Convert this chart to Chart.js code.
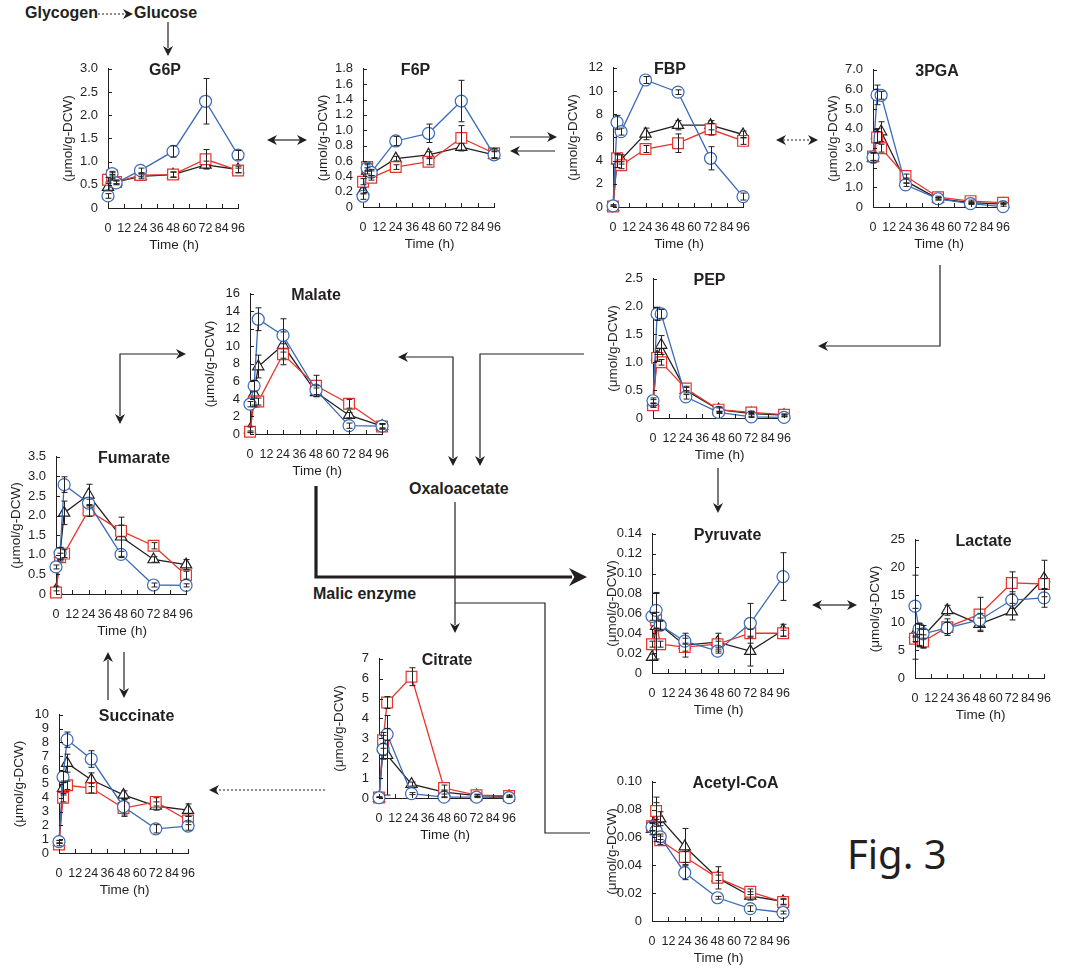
<!DOCTYPE html>
<html><head><meta charset="utf-8">
<script src="https://cdn.jsdelivr.net/npm/chart.js@4.4.1/dist/chart.umd.min.js"></script>
<style>
body{margin:0;background:#fff;width:1067px;height:970px;position:relative;overflow:hidden;font-family:"Liberation Sans",Arial,sans-serif;color:#231f20;}
canvas{position:absolute;}
.lbl{position:absolute;font-weight:bold;font-size:16px;white-space:nowrap;line-height:1;}
#fig{position:absolute;left:847px;top:834px;font-family:"Noto Sans",sans-serif;font-size:40px;line-height:1;color:#231f20;}
svg{position:absolute;left:0;top:0;}
</style></head><body>
<svg id="arrows" width="1067" height="970"></svg>
<div class="lbl" style="left:25px;top:5px">Glycogen</div>
<div class="lbl" style="left:134px;top:5px">Glucose</div>
<div class="lbl" style="left:409px;top:481px">Oxaloacetate</div>
<div class="lbl" style="left:313px;top:586px">Malic enzyme</div>
<div id="fig">Fig. 3</div>
<script>
// ---------- data ----------
const times = [0, 3, 6, 24, 48, 72, 96];
const xTickLabels = ['0','12','24','36','48','60','72','84','96'];

// G6P
const g6pYTicks = ['0','0.5','1.0','1.5','2.0','2.5','3.0'];
const g6pBlue = [0.26,0.74,0.54,0.81,1.22,2.30,1.14];
const g6pBlueErr = [0.05,0.05,0.04,0.05,0.12,0.49,0.10];
const g6pRed = [0.61,0.70,0.56,0.71,0.72,1.05,0.81];
const g6pRedErr = [0.05,0.06,0.04,0.04,0.05,0.21,0.05];
const g6pBlack = [0.45,0.66,0.56,0.68,0.72,0.93,0.83];
const g6pBlackErr = [0.08,0.06,0.04,0.05,0.06,0.08,0.07];

// F6P
const f6pYTicks = ['0','0.2','0.4','0.6','0.8','1.0','1.2','1.4','1.6','1.8'];
const f6pBlue = [0.14,0.51,0.45,0.86,0.96,1.38,0.68];
const f6pBlueErr = [0.04,0.04,0.04,0.06,0.12,0.27,0.04];
const f6pRed = [0.33,0.52,0.38,0.52,0.59,0.90,0.70];
const f6pRedErr = [0.04,0.05,0.03,0.03,0.04,0.16,0.06];
const f6pBlack = [0.21,0.47,0.43,0.63,0.68,0.78,0.68];
const f6pBlackErr = [0.04,0.04,0.04,0.03,0.04,0.05,0.05];

// FBP
const fbpYTicks = ['0','2','4','6','8','10','12'];
const fbpBlue = [0.1,7.3,6.5,10.95,9.9,4.2,0.9];
const fbpBlueErr = [0.1,0.6,0.3,0.3,0.2,1.0,0.3];
const fbpRed = [0.05,4.2,3.6,5.0,5.5,6.7,5.7];
const fbpRedErr = [0.05,0.3,0.3,0.3,0.8,0.5,0.3];
const fbpBlack = [0,4.0,4.1,6.3,7.05,7.05,6.25];
const fbpBlackErr = [0.05,0.6,0.4,0.5,0.4,0.4,0.3];

// 3PGA
const pgaYTicks = ['0','1.0','2.0','3.0','4.0','5.0','6.0','7.0'];
const pgaBlue = [2.55,5.72,5.7,1.13,0.42,0.17,0.02];
const pgaBlueErr = [0.2,0.5,0.2,0.08,0.06,0.04,0.02];
const pgaRed = [2.58,3.55,3.0,1.58,0.5,0.3,0.22];
const pgaRedErr = [0.2,0.3,0.2,0.1,0.05,0.05,0.03];
const pgaBlack = [2.5,3.65,3.85,1.33,0.42,0.22,0.15];
const pgaBlackErr = [0.25,0.35,0.5,0.1,0.06,0.04,0.03];

// Malate
const malYTicks = ['0','2','4','6','8','10','12','14','16'];
const malBlue = [3.4,5.5,13.1,11.25,5.0,0.95,0.9];
const malBlueErr = [0.3,0.6,1.3,1.9,0.5,0.3,0.2];
const malRed = [0.25,3.7,3.7,9.1,5.5,3.45,0.85];
const malRedErr = [0.1,0.4,0.4,1.2,1.2,0.5,0.3];
const malBlack = [0.5,4.6,7.7,10.15,4.75,2.15,0.9];
const malBlackErr = [0.3,1.5,1.3,1.5,0.5,0.3,0.3];

// PEP
const pepYTicks = ['0','0.5','1.0','1.5','2.0','2.5'];
const pepBlue = [0.31,1.87,1.87,0.38,0.10,0.02,0.01];
const pepBlueErr = [0.05,0.12,0.08,0.04,0.02,0.01,0.01];
const pepRed = [0.23,1.08,1.0,0.53,0.15,0.10,0.06];
const pepRedErr = [0.04,0.06,0.05,0.04,0.03,0.02,0.01];
const pepBlack = [0.28,1.10,1.31,0.50,0.15,0.08,0.05];
const pepBlackErr = [0.05,0.08,0.17,0.05,0.05,0.02,0.02];

// Fumarate
const fumYTicks = ['0','0.5','1.0','1.5','2.0','2.5','3.0','3.5'];
const fumBlue = [0.69,1.04,2.79,2.32,1.01,0.23,0.22];
const fumBlueErr = [0.05,0.15,0.2,0.1,0.08,0.05,0.04];
const fumRed = [0.04,0.94,1.03,2.13,1.61,1.23,0.48];
const fumRedErr = [0.04,0.1,0.1,0.15,0.15,0.08,0.1];
const fumBlack = [0.1,1.02,2.07,2.53,1.46,0.88,0.75];
const fumBlackErr = [0.1,0.15,0.3,0.27,0.5,0.07,0.13];

// Pyruvate
const pyrYTicks = ['0','0.02','0.04','0.06','0.08','0.10','0.12','0.14'];
const pyrBlue = [0.057,0.063,0.048,0.032,0.022,0.050,0.097];
const pyrBlueErr = [0.004,0.018,0.004,0.003,0.002,0.020,0.024];
const pyrRed = [0.029,0.053,0.029,0.026,0.029,0.040,0.040];
const pyrRedErr = [0.003,0.008,0.003,0.004,0.003,0.004,0.003];
const pyrBlack = [0.016,0.047,0.048,0.028,0.031,0.022,0.043];
const pyrBlackErr = [0.003,0.033,0.005,0.012,0.009,0.015,0.006];

// Lactate
const lacYTicks = ['0','5','10','15','20','25'];
const lacBlue = [13.0,8.9,8.0,9.05,10.5,14.1,14.5];
const lacBlueErr = [5.6,1.0,0.8,1.0,1.2,1.5,1.7];
const lacRed = [7.1,7.4,6.6,9.2,11.5,17.2,17.0];
const lacRedErr = [0.5,1.5,1.2,1.5,3.1,2.0,1.0];
const lacBlack = [8.0,7.7,7.5,12.25,9.75,12.0,18.0];
const lacBlackErr = [4.6,2.0,2.0,0.9,1.1,1.5,3.3];

// Citrate
const citYTicks = ['0','1','2','3','4','5','6','7'];
const citBlue = [0.02,2.45,3.2,0.22,0.04,0.04,0.02];
const citBlueErr = [0.02,0.3,0.3,0.05,0.02,0.02,0.02];
const citRed = [0.03,2.9,4.8,6.1,0.5,0.14,0.1];
const citRedErr = [0.03,0.4,0.3,0.45,0.15,0.05,0.05];
const citBlack = [0,2.55,2.15,0.7,0.3,0.12,0.08];
const citBlackErr = [0.02,0.6,2.0,0.1,0.1,0.04,0.03];

// Succinate
const sucYTicks = ['0','1','2','3','4','5','6','7','8','9','10'];
const sucBlue = [0.82,5.5,8.2,6.8,3.35,1.75,1.95];
const sucBlueErr = [0.1,0.4,0.55,0.6,0.6,0.3,0.3];
const sucRed = [0.62,4.0,4.9,4.7,3.25,3.7,2.35];
const sucRedErr = [0.1,0.3,0.3,0.35,0.6,0.3,0.3];
const sucBlack = [0.8,4.7,6.5,5.3,4.2,3.4,3.1];
const sucBlackErr = [0.1,0.5,0.65,0.5,0.3,0.3,0.45];

// Acetyl-CoA
const acoYTicks = ['0','0.02','0.04','0.06','0.08','0.10'];
const acoBlue = [0.0676,0.065,0.0605,0.0347,0.0167,0.0089,0.0061];
const acoBlueErr = [0.003,0.003,0.002,0.005,0.001,0.002,0.001];
const acoRed = [0.068,0.079,0.058,0.046,0.031,0.021,0.0136];
const acoRedErr = [0.003,0.006,0.003,0.004,0.002,0.002,0.002];
const acoBlack = [0.066,0.073,0.0735,0.0535,0.031,0.018,0.014];
const acoBlackErr = [0.004,0.016,0.005,0.013,0.008,0.003,0.002];

// ---------- layout (plot boxes: axis x, top y, width, height) ----------
const panels = [
  {title:'G6P', dx:-8, box:[108,66,135,142], yMax:3.0, yStep:0.5, yTicks:g6pYTicks, b:g6pBlue, be:g6pBlueErr, r:g6pRed, re:g6pRedErr, k:g6pBlack, ke:g6pBlackErr},
  {title:'F6P', dx:-13, box:[363,66,136,141], yMax:1.8, yStep:0.2, yTicks:f6pYTicks, b:f6pBlue, be:f6pBlueErr, r:f6pRed, re:f6pRedErr, k:f6pBlack, ke:f6pBlackErr},
  {title:'FBP', dx:-8, box:[613,65,135,142], yMax:12, yStep:2, yTicks:fbpYTicks, b:fbpBlue, be:fbpBlueErr, r:fbpRed, re:fbpRedErr, k:fbpBlack, ke:fbpBlackErr},
  {title:'3PGA', dx:-1, box:[873,67,135,140], yMax:7, yStep:1, yTicks:pgaYTicks, b:pgaBlue, be:pgaBlueErr, r:pgaRed, re:pgaRedErr, k:pgaBlack, ke:pgaBlackErr},
  {title:'Malate', dx:0, box:[250,291,137,143], yMax:16, yStep:2, yTicks:malYTicks, b:malBlue, be:malBlueErr, r:malRed, re:malRedErr, k:malBlack, ke:malBlackErr},
  {title:'PEP', dx:-9, box:[653,276,136,142], yMax:2.5, yStep:0.5, yTicks:pepYTicks, b:pepBlue, be:pepBlueErr, r:pepRed, re:pepRedErr, k:pepBlack, ke:pepBlackErr},
  {title:'Fumarate', dx:13, box:[56,454,135,140], yMax:3.5, yStep:0.5, yTicks:fumYTicks, b:fumBlue, be:fumBlueErr, r:fumRed, re:fumRedErr, k:fumBlack, ke:fumBlackErr},
  {title:'Pyruvate', dx:10, box:[652,531,136,142], yMax:0.14, yStep:0.02, yTicks:pyrYTicks, b:pyrBlue, be:pyrBlueErr, r:pyrRed, re:pyrRedErr, k:pyrBlack, ke:pyrBlackErr},
  {title:'Lactate', dx:4, box:[915,537,134,141], yMax:25, yStep:5, yTicks:lacYTicks, b:lacBlue, be:lacBlueErr, r:lacRed, re:lacRedErr, k:lacBlack, ke:lacBlackErr},
  {title:'Citrate', dx:3, box:[379,656,135,142], yMax:7, yStep:1, yTicks:citYTicks, b:citBlue, be:citBlueErr, r:citRed, re:citRedErr, k:citBlack, ke:citBlackErr},
  {title:'Succinate', dx:13, box:[59,712,134,141], yMax:10, yStep:1, yTicks:sucYTicks, b:sucBlue, be:sucBlueErr, r:sucRed, re:sucRedErr, k:sucBlack, ke:sucBlackErr},
  {title:'Acetyl-CoA', dx:18, box:[652,779,136,142], yMax:0.10, yStep:0.02, yTicks:acoYTicks, b:acoBlue, be:acoBlueErr, r:acoRed, re:acoRedErr, k:acoBlack, ke:acoBlackErr}
];

const INK = '#231f20';
const BLUE = '#3a6bb8';
const RED = '#e8342c';
const PADL = 75, PADT = 15, PADR = 15, PADB = 52;

const decoPlugin = {
  id: 'deco',
  afterDatasetsDraw(chart) {
    const ctx = chart.ctx, ys = chart.scales.y;
    ctx.save();
    ctx.strokeStyle = INK; ctx.lineWidth = 1;
    chart.data.datasets.forEach((ds, di) => {
      const meta = chart.getDatasetMeta(di);
      meta.data.forEach((pt, i) => {
        const v = ds.data[i].y, e = ds.errors[i];
        if (!e) return;
        const x = Math.round(pt.x) + 0.5;
        const y1 = ys.getPixelForValue(v + e), y2 = ys.getPixelForValue(Math.max(v - e, 0));
        ctx.beginPath();
        ctx.moveTo(x, y1); ctx.lineTo(x, y2);
        ctx.moveTo(x - 3, y1); ctx.lineTo(x + 3, y1);
        if (v - e > 0) { ctx.moveTo(x - 3, y2); ctx.lineTo(x + 3, y2); }
        ctx.stroke();
      });
    });
    ctx.restore();
  },
  afterDraw(chart) {
    const ctx = chart.ctx, a = chart.chartArea, xs = chart.scales.x, ys = chart.scales.y;
    const p = chart.options.plugins.deco;
    ctx.save();
    ctx.strokeStyle = INK; ctx.lineWidth = 1;
    ctx.beginPath();
    xs.ticks.forEach(t => {
      const x = Math.round(xs.getPixelForValue(t.value)) + 0.5;
      ctx.moveTo(x, a.bottom); ctx.lineTo(x, a.bottom - 4);
    });
    ys.ticks.forEach(t => {
      const y = Math.round(ys.getPixelForValue(t.value)) + 0.5;
      ctx.moveTo(a.left, y); ctx.lineTo(a.left + 4, y);
    });
    ctx.stroke();
    ctx.fillStyle = INK;
    ctx.textAlign = 'center'; ctx.textBaseline = 'middle';
    ctx.font = 'bold 16px "Liberation Sans", Arial, sans-serif';
    ctx.fillText(p.title, (a.left + a.right) / 2 + p.dx, a.top + 2);
    ctx.font = '13.5px "Liberation Sans", Arial, sans-serif';
    ctx.fillText('Time (h)', (a.left + a.right) / 2 + 1, a.bottom + 37);
    ctx.translate(a.left - 40, (a.top + a.bottom) / 2);
    ctx.rotate(-Math.PI / 2);
    ctx.fillText('(\u03bcmol/g-DCW)', 0, 0);
    ctx.restore();
  }
};

function series(vals, errs, color, style, radius) {
  return {
    data: times.map((t, i) => ({x: t, y: vals[i]})),
    errors: errs,
    borderColor: color, backgroundColor: '#ffffff',
    pointBorderColor: color, pointBackgroundColor: '#ffffff',
    pointStyle: style, pointRadius: radius, pointBorderWidth: 1.2,
    borderWidth: 1.3, clip: false, tension: 0
  };
}

panels.forEach(p => {
  const [ax, ty, w, h] = p.box;
  const cv = document.createElement('canvas');
  const W = PADL + w + PADR, H = PADT + h + PADB;
  cv.width = W; cv.height = H;
  cv.style.left = (ax - PADL) + 'px'; cv.style.top = (ty - PADT) + 'px';
  cv.style.width = W + 'px'; cv.style.height = H + 'px';
  document.body.appendChild(cv);
  new Chart(cv, {
    type: 'line',
    data: { datasets: [
      series(p.b, p.be, BLUE, 'circle', 6),
      series(p.r, p.re, RED, 'rect', 7.6),
      series(p.k, p.ke, INK, 'triangle', 6.5)
    ]},
    options: {
      responsive: false, animation: false, devicePixelRatio: 1,
      layout: { padding: { left: 0, top: PADT, right: PADR, bottom: 0 } },
      plugins: { legend: { display: false }, tooltip: { enabled: false }, deco: { title: p.title, dx: p.dx } },
      scales: {
        x: {
          type: 'linear', min: 0, max: 96,
          grid: { display: false, drawTicks: false },
          border: { display: true, color: INK, width: 1 },
          ticks: { stepSize: 12, padding: 13, color: INK, maxRotation: 0, autoSkip: false,
                   font: { size: 12.5, family: '"Liberation Sans", Arial, sans-serif' },
                   callback: (v, i) => xTickLabels[i] },
          afterFit: s => { s.height = PADB; }
        },
        y: {
          type: 'linear', min: 0, max: p.yMax,
          grid: { display: false, drawTicks: false },
          border: { display: true, color: INK, width: 1 },
          ticks: { stepSize: p.yStep, padding: 10, color: INK, autoSkip: false,
                   font: { size: 13, family: '"Liberation Sans", Arial, sans-serif' },
                   callback: (v, i) => p.yTicks[i] },
          afterFit: s => { s.width = PADL; }
        }
      }
    },
    plugins: [decoPlugin]
  });
});

// ---------- pathway arrows ----------
const svg = document.getElementById('arrows');
const NS = 'http://www.w3.org/2000/svg';
function el(tag, attrs) { const e = document.createElementNS(NS, tag); for (const k in attrs) e.setAttribute(k, attrs[k]); svg.appendChild(e); return e; }
function line(pts, opts = {}) {
  el('polyline', { points: pts.map(p => p.join(',')).join(' '), fill: 'none', stroke: INK,
    'stroke-width': opts.w || 1.2, 'stroke-dasharray': opts.dash || 'none' });
}
function head(x, y, dir, size = 1) {
  const L = 10 * size, Wd = 5 * size, n = 3 * size;
  let pts;
  if (dir === 'r') pts = [[x, y], [x - L, y - Wd], [x - L + n, y], [x - L, y + Wd]];
  if (dir === 'l') pts = [[x, y], [x + L, y - Wd], [x + L - n, y], [x + L, y + Wd]];
  if (dir === 'd') pts = [[x, y], [x - Wd, y - L], [x, y - L + n], [x + Wd, y - L]];
  if (dir === 'u') pts = [[x, y], [x - Wd, y + L], [x, y + L - n], [x + Wd, y + L]];
  el('polygon', { points: pts.map(p => p.join(',')).join(' '), fill: INK });
}
// Glycogen -> Glucose
line([[98,14],[124,14]], {dash:'2,2'}); head(133,14,'r');
// Glucose -> G6P
line([[168,22],[168,48]]); head(168,56,'d');
// G6P <-> F6P
line([[274,140],[300,140]]); head(267,140,'l'); head(307,140,'r');
// F6P <=> FBP
line([[510,137],[550,137]]); head(557,137,'r');
line([[517,151],[555,151]]); head(510,151,'l');
// FBP <-> 3PGA dotted
line([[783,140],[811,140]], {dash:'2,2'}); head(776,140,'l'); head(818,140,'r');
// 3PGA -> PEP
line([[940,265],[940,346],[825,346]]); head(818,346,'l');
// PEP -> Oxaloacetate
line([[584,354],[480,354],[480,458]]); head(480,466,'d');
// Malate <-> Oxaloacetate
line([[405,357],[453,357],[453,458]]); head(398,357,'l'); head(453,466,'d');
// Fumarate <-> Malate
line([[120,416],[120,354],[178,354]]); head(120,424,'d'); head(186,354,'r');
// Malic enzyme (thick)
el('polyline', { points: '316,486 316,577 572,577', fill: 'none', stroke: INK, 'stroke-width': 3.2 });
head(587,577,'r',1.8);
// Oxaloacetate -> Citrate, and branch to Acetyl-CoA
line([[455,502],[455,625]]); head(455,633,'d');
line([[455,603],[545,603],[545,833],[590,833]]);
// PEP -> Pyruvate
line([[718,468],[718,505]]); head(718,513,'d');
// Pyruvate <-> Lactate
line([[819,605],[850,605]]); head(812,605,'l'); head(857,605,'r');
// Fumarate <-> Succinate
line([[108,660],[108,700]]); head(108,652,'u');
line([[124,652],[124,690]]); head(124,698,'d');
// Citrate -> Succinate dotted
line([[325,790],[216,790]], {dash:'2,2'}); head(209,790,'l');
</script>
</body></html>
